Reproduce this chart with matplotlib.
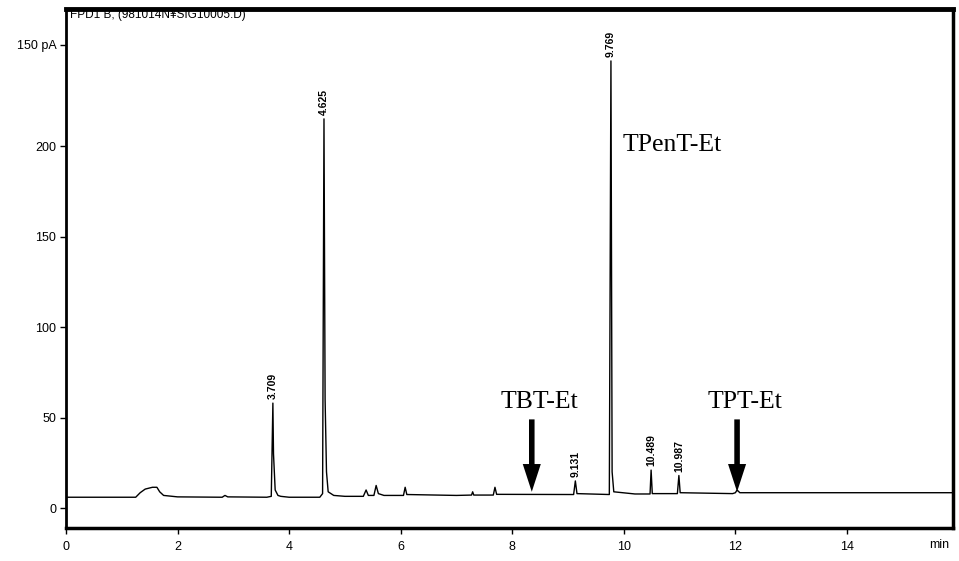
import matplotlib
matplotlib.use("Agg")
import matplotlib.pyplot as plt
from matplotlib.patches import ArrowStyle

# FPD chromatogram trace (retention time in min, signal in pA)
trace_time = [
    0.00, 1.25, 1.33, 1.42, 1.55, 1.63, 1.68, 1.75, 2.00, 2.80, 2.85, 2.90,
    3.60, 3.68, 3.709, 3.72, 3.75, 3.80, 3.85, 4.00,
    4.55, 4.60, 4.625, 4.645, 4.67, 4.70, 4.80, 5.00,
    5.33, 5.38, 5.42, 5.52, 5.56, 5.60, 5.70, 6.05, 6.08, 6.11,
    7.00, 7.27, 7.29, 7.31, 7.66, 7.69, 7.72,
    9.10, 9.131, 9.16, 9.74, 9.769, 9.79, 9.82, 10.20,
    10.47, 10.489, 10.51, 10.96, 10.987, 11.01,
    11.95, 12.00, 12.03, 12.08, 15.90,
]
trace_signal = [
    6.0, 6.0, 8.5, 10.5, 11.5, 11.5, 9.0, 7.0, 6.2, 6.0, 7.0, 6.2,
    6.0, 6.5, 58.0, 30.0, 10.0, 7.0, 6.5, 6.0,
    6.0, 8.0, 215.0, 60.0, 20.0, 9.0, 7.0, 6.5,
    6.5, 10.0, 7.0, 7.0, 12.5, 8.0, 7.0, 7.0, 11.5, 7.5,
    7.0, 7.2, 9.0, 7.2, 7.2, 11.5, 7.6,
    7.5, 15.0, 8.0, 7.5, 247.0, 20.0, 9.0, 7.8,
    7.8, 21.0, 8.0, 8.0, 18.0, 8.5,
    8.0, 8.5, 10.0, 8.5, 8.5,
]

# Integrated peaks: retention time labels and apex heights
peak_times = [3.709, 4.625, 9.131, 9.769, 10.489, 10.987]
peak_heights = [58.0, 215.0, 15.0, 247.0, 21.0, 18.0]
peak_labels = ["3.709", "4.625", "9.131", "9.769", "10.489", "10.987"]

# Compound annotations
compound_names = ["TBT-Et", "TPT-Et"]
compound_times = [8.35, 12.03]
compound_text_times = [8.49, 12.17]
tpent_name = "TPenT-Et"

x_ticks = [0, 2, 4, 6, 8, 10, 12, 14]
y_ticks = [0, 50, 100, 150, 200]

fig = plt.figure(figsize=(9.59, 5.61), dpi=100)
ax = fig.add_axes([0.0688, 0.0588, 0.9249, 0.9252])

ax.plot(trace_time, trace_signal, color="black", lw=1.0)

ax.set_xlim(0, 15.9)
ax.set_ylim(-11, 275.7)

sans = "Liberation Sans"
serif = "Liberation Serif"

ax.set_xticks(x_ticks)
ax.set_xticklabels([str(t) for t in x_ticks], fontfamily=sans, fontsize=9)
ax.set_yticks(y_ticks + [256])
ax.set_yticklabels([str(t) for t in y_ticks] + ["150 pA"], fontfamily=sans, fontsize=9)
ax.tick_params(direction="out", length=4, width=1, color="black", pad=3)
ax.tick_params(axis="x", pad=5)

for side in ["left", "bottom", "right", "top"]:
    ax.spines[side].set_color("black")
ax.spines["left"].set_linewidth(2)
ax.spines["bottom"].set_linewidth(2.5)
ax.spines["right"].set_linewidth(2.5)
ax.spines["top"].set_linewidth(3.5)

# unit label at the end of the time axis
ax.text(15.65, -17, "min", ha="center", va="top", fontfamily=sans, fontsize=9)

# signal header
ax.text(0.07, 275.7, "FPD1 B, (981014N¥SIG10005.D)", ha="left", va="top",
        fontfamily=sans, fontsize=8.5)

# retention time labels above the peaks
for t, h, lab in zip(peak_times, peak_heights, peak_labels):
    ax.text(t, h + 2, lab, rotation=90, ha="center", va="bottom",
            fontfamily=sans, fontsize=7.5, fontweight="bold")

# compound names with filled arrows
arrow = ArrowStyle("simple", head_length=1.0, head_width=0.65, tail_width=0.2)
for name, t, tt in zip(compound_names, compound_times, compound_text_times):
    ax.text(tt, 58.6, name, ha="center", va="center", fontfamily=serif, fontsize=18.5)
    ax.annotate("", xy=(t, 9), xytext=(t, 49),
                arrowprops=dict(arrowstyle=arrow, lw=0, color="black",
                                mutation_scale=20, shrinkA=0, shrinkB=0))
ax.text(10.86, 200.5, tpent_name, ha="center", va="center", fontfamily=serif, fontsize=18.5)

fig.savefig("out.png", dpi=100)
